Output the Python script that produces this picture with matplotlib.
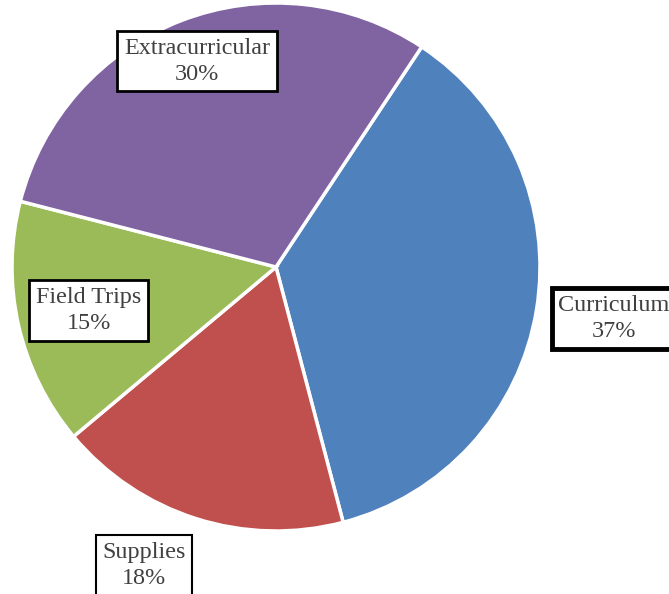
import matplotlib.pyplot as plt

categories = ["Curriculum", "Supplies", "Field Trips", "Extracurricular"]
values = [36.6, 18.0, 15.1, 30.3]
colors = ["#4F81BD", "#C0504D", "#9BBB59", "#8064A2"]

# label centres (data units, pie radius = 1) and box border widths
label_pos = [(1.28, -0.195), (-0.50, -1.13), (-0.71, -0.165), (-0.30, 0.78)]
box_lw = [3.5, 1.5, 2.0, 2.0]

W, H = 669, 594
fig = plt.figure(figsize=(W / 100, H / 100), dpi=100)
cx, cy, r = 276, 267, 264
ax = fig.add_axes([(cx - r) / W, (H - cy - r) / H, 2 * r / W, 2 * r / H])

ax.pie(values, colors=colors, startangle=56.5, counterclock=False, radius=1,
       wedgeprops=dict(edgecolor="white", linewidth=2.5))
ax.set_xlim(-1, 1)
ax.set_ylim(-1, 1)
ax.set_aspect("auto")
ax.axis("off")

total = sum(values)
for name, v, (x, y), lw in zip(categories, values, label_pos, box_lw):
    ax.text(x, y, f"{name}\n{round(100 * v / total)}%", ha="center", va="center",
            fontsize=17.4, family="Liberation Serif", color="#404040",
            linespacing=1.32, clip_on=False,
            bbox=dict(boxstyle="square,pad=0.28", fc="white", ec="black", lw=lw))

fig.savefig("out.png", dpi=100)
